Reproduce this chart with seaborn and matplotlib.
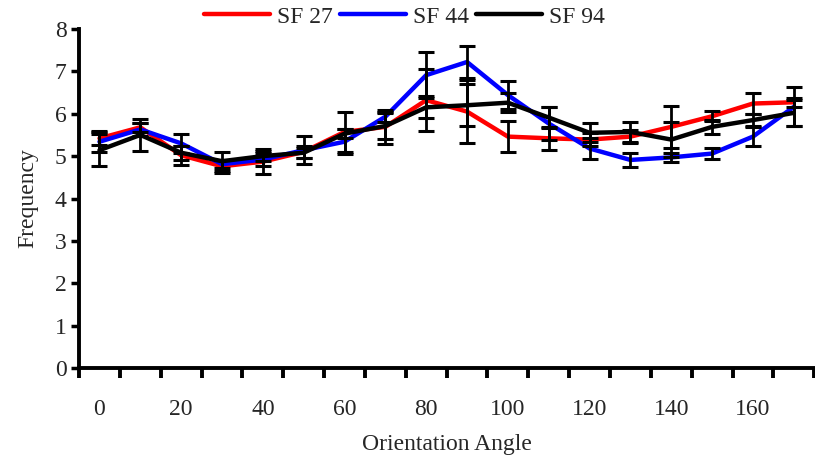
import matplotlib
matplotlib.use("Agg")
import matplotlib.pyplot as plt
import numpy as np
import pandas as pd
import seaborn as sns

# Orientation angles (degrees) and mean frequency per spatial-frequency condition
angles = [0, 10, 20, 30, 40, 50, 60, 70, 80, 90, 100, 110, 120, 130, 140, 150, 160, 170]
sf27 = [5.42, 5.68, 5.02, 4.76, 4.87, 5.10, 5.57, 5.69, 6.32, 6.05, 5.46, 5.42, 5.39, 5.46, 5.69, 5.94, 6.24, 6.27]
sf44 = [5.34, 5.63, 5.30, 4.81, 4.92, 5.14, 5.34, 5.93, 6.91, 7.22, 6.44, 5.77, 5.18, 4.91, 4.97, 5.06, 5.46, 6.16]
sf94 = [5.14, 5.50, 5.08, 4.88, 5.00, 5.08, 5.53, 5.71, 6.15, 6.20, 6.26, 5.91, 5.55, 5.57, 5.39, 5.69, 5.85, 6.02]

# Error (± half-range) for each point
err27 = [0.15, 0.10, 0.22, 0.15, 0.29, 0.14, 0.48, 0.40, 0.73, 0.75, 0.36, 0.27, 0.15, 0.15, 0.49, 0.12, 0.24, 0.10]
err44 = [0.25, 0.15, 0.22, 0.10, 0.15, 0.33, 0.30, 0.12, 0.55, 0.38, 0.34, 0.40, 0.25, 0.16, 0.10, 0.13, 0.22, 0.46]
err94 = [0.37, 0.37, 0.17, 0.22, 0.12, 0.12, 0.10, 0.30, 0.26, 0.50, 0.23, 0.24, 0.22, 0.24, 0.42, 0.17, 0.15, 0.31]

series_names = ["SF 27", "SF 44", "SF 94"]
series_colors = ["#ff0000", "#0000ff", "#000000"]

sns.set_theme(style="white")
plt.rcParams["font.family"] = ["Liberation Serif", "DejaVu Serif"]

# Long-form table; categorical x position = index of the angle
pos = np.arange(len(angles))
df = pd.concat([
    pd.DataFrame({"pos": pos, "angle": angles, "freq": vals, "err": errs, "series": name})
    for name, vals, errs in zip(series_names, [sf27, sf44, sf94], [err27, err44, err94])
], ignore_index=True)

fig = plt.figure(figsize=(8.15, 4.59), dpi=100)
ax = fig.add_axes([0.097, 0.198, 0.902, 0.739])

sns.lineplot(data=df, x="pos", y="freq", hue="series", hue_order=series_names,
             palette=series_colors, linewidth=3.2, ax=ax, legend=True, zorder=2)

for name in series_names:
    sub = df[df["series"] == name]
    ax.errorbar(sub["pos"], sub["freq"], yerr=sub["err"], fmt="none",
                ecolor="black", elinewidth=2.0, capsize=5.5, capthick=2.2, zorder=3)

ax.set_xlim(-0.5, len(angles) - 0.5)
ax.set_ylim(0, 8)

# Category axis: tick marks between categories, labels on every other category
ax.set_xticks(np.arange(-0.5, len(angles) + 0.5, 1.0))
ax.set_xticklabels([])
ax.set_xticks(pos[::2], minor=True)
ax.set_xticklabels([str(a) for a in angles[::2]], minor=True)
ax.tick_params(axis="x", which="major", direction="out", length=7, width=2.8, color="black", bottom=True)
ax.tick_params(axis="x", which="minor", length=0, labelsize=17, pad=22)

ax.set_yticks(range(0, 9))
ax.tick_params(axis="y", direction="out", length=6, width=2.5, color="black", labelsize=17, left=True, pad=3)

for side in ["top", "right"]:
    ax.spines[side].set_visible(False)
for side in ["left", "bottom"]:
    ax.spines[side].set_linewidth(2.8)
    ax.spines[side].set_color("black")

ax.set_xlabel("Orientation Angle", fontsize=17, labelpad=10)
ax.set_ylabel("Frequency", fontsize=17, labelpad=12)

handles, labels = ax.get_legend_handles_labels()
ax.legend(handles, labels, loc="center", bbox_to_anchor=(0.496, 0.963),
          bbox_transform=fig.transFigure, ncol=3, frameon=False, fontsize=17,
          handlelength=2.8, handletextpad=0.3, columnspacing=0.3)

fig.savefig("out.png", dpi=100)
